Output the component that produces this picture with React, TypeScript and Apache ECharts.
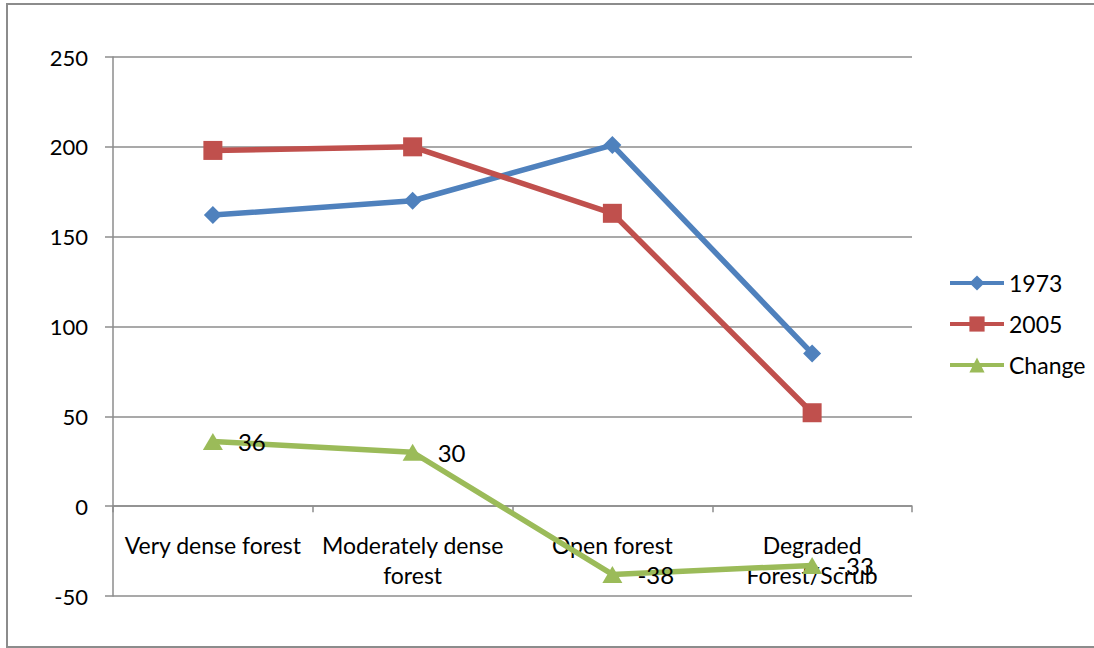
import React, { useEffect, useRef } from "react";
import * as echarts from "echarts";

// Forest cover classes (x axis), two-line names where the label wraps
const categories = ["Very dense forest", "Moderately dense\nforest", "Open forest", "Degraded\nForest/Scrub"];
const values1973 = [162, 170, 201, 85];
const values2005 = [198, 200, 163, 52];
const valuesChange = [36, 30, -38, -33];

const FONT = "Lato, 'Open Sans', sans-serif";
const GRID_GRAY = "#8c8c8c";

export default function App() {
  const ref = useRef<HTMLDivElement>(null);

  useEffect(() => {
    if (!ref.current) return;
    const chart = echarts.init(ref.current, undefined, { renderer: "svg" });
    chart.setOption({
      animation: false,
      backgroundColor: "#ffffff",
      textStyle: { fontFamily: FONT, color: "#000" },
      graphic: [
        {
          type: "rect",
          shape: { x: 7, y: 4, width: 1100, height: 643 },
          style: { fill: "none", stroke: GRID_GRAY, lineWidth: 2 },
          silent: true,
        },
      ],
      grid: {
        left: 113,
        top: 57,
        width: 799,
        height: 539,
        containLabel: false,
        outerBoundsMode: "none",
      },
      legend: {
        orient: "vertical",
        left: 948,
        top: 271,
        padding: 0,
        itemWidth: 54,
        itemHeight: 19,
        itemGap: 17,
        lineStyle: { width: 4 },
        textStyle: { fontSize: 23, fontFamily: FONT, color: "#000", lineHeight: 24, padding: [0, 0, 0, 0] },
        data: ["1973", "2005", "Change"],
      },
      xAxis: {
        type: "category",
        data: categories,
        boundaryGap: true,
        axisLine: { onZero: true, lineStyle: { color: GRID_GRAY, width: 1.5 } },
        axisTick: { show: true, length: 6, lineStyle: { color: GRID_GRAY, width: 1.5 } },
        axisLabel: {
          fontSize: 23,
          fontFamily: FONT,
          color: "#000",
          lineHeight: 30,
          // labels are laid out from the grid's bottom edge; pull them up under the zero line
          margin: -66,
          interval: 0,
          verticalAlign: "top",
        },
        splitLine: { show: false },
      },
      yAxis: {
        type: "value",
        min: -50,
        max: 250,
        interval: 50,
        axisLine: { show: true, lineStyle: { color: GRID_GRAY, width: 1.5 } },
        axisTick: { show: true, length: 8, lineStyle: { color: GRID_GRAY, width: 1.5 } },
        axisLabel: { fontSize: 22, fontFamily: FONT, color: "#000", margin: 25 },
        splitLine: { show: true, lineStyle: { color: GRID_GRAY, width: 1.5 } },
      },
      series: [
        {
          name: "1973",
          type: "line",
          data: values1973,
          color: "#4f81bd",
          symbol: "diamond",
          symbolSize: 18,
          lineStyle: { width: 5.5, color: "#4f81bd" },
          itemStyle: { color: "#4f81bd" },
        },
        {
          name: "2005",
          type: "line",
          data: values2005,
          color: "#c0504d",
          symbol: "rect",
          symbolSize: 19,
          lineStyle: { width: 5.5, color: "#c0504d" },
          itemStyle: { color: "#c0504d" },
        },
        {
          name: "Change",
          type: "line",
          data: valuesChange,
          color: "#9bbb59",
          symbol: "triangle",
          symbolSize: [20, 17],
          lineStyle: { width: 5.5, color: "#9bbb59" },
          itemStyle: { color: "#9bbb59" },
          label: {
            show: true,
            position: "right",
            distance: 15,
            fontSize: 24,
            fontFamily: FONT,
            color: "#000",
          },
          z: 1,
        },
      ],
    });
    return () => chart.dispose();
  }, []);

  return (
    <div
      ref={ref}
      style={{ position: "absolute", left: 0, top: 0, width: 1094, height: 648 }}
    />
  );
}
